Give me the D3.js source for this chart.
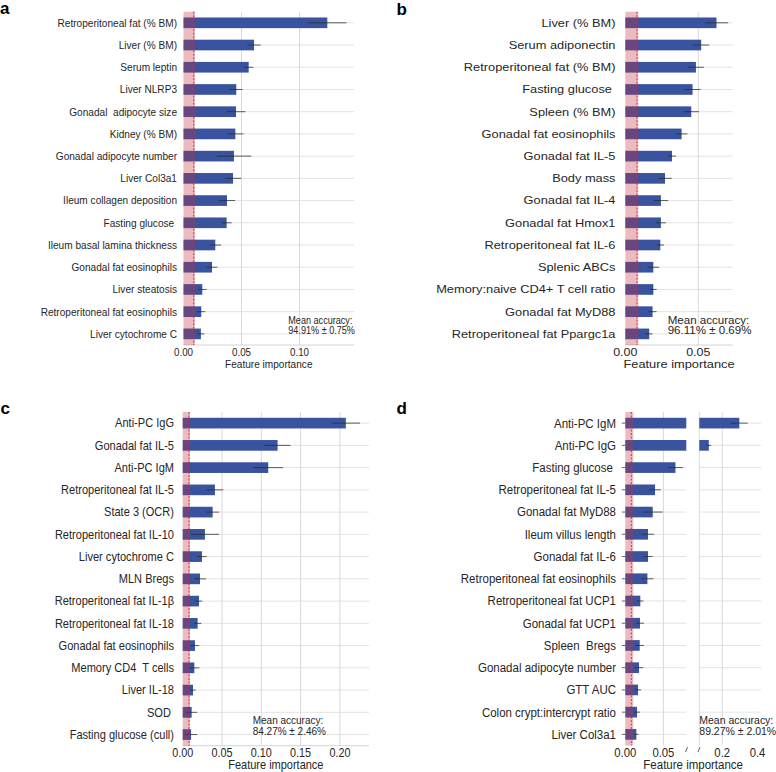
<!DOCTYPE html>
<html><head><meta charset="utf-8">
<script src="https://cdn.jsdelivr.net/npm/d3@7"></script>
<style>
body{margin:0;background:#fff}
svg{display:block;font-family:"Liberation Sans",Arial,Helvetica,sans-serif}
text{white-space:pre}
</style>
</head><body>
<svg id="chart" width="776" height="772"></svg>
<script>
// ---------- DATA ----------
const labelsA = ["Retroperitoneal fat (% BM)","Liver (% BM)","Serum leptin","Liver NLRP3","Gonadal  adipocyte size","Kidney (% BM)","Gonadal adipocyte number","Liver Col3a1","Ileum collagen deposition","Fasting glucose ","Ileum basal lamina thickness","Gonadal fat eosinophils","Liver steatosis","Retroperitoneal fat eosinophils","Liver cytochrome C"];
const valuesA = [0.124,0.0608,0.0562,0.0455,0.0453,0.0447,0.0435,0.0427,0.0375,0.0372,0.0274,0.0246,0.0162,0.0153,0.015];
const errorsA = [0.0165,0.0057,0.004,0.0055,0.008,0.007,0.015,0.007,0.007,0.0043,0.005,0.0046,0.0037,0.0035,0.003];
const ticksA = [0,0.05,0.10];
const tickLabelsA = ["0.00","0.05","0.10"];
const accuracyA = ["Mean accuracy:","94.91% \u00b1 0.75%"];
const noiseA = {band:0.0099, line:0.0088};

const labelsB = ["Liver (% BM)","Serum adiponectin","Retroperitoneal fat (% BM)","Fasting glucose ","Spleen (% BM)","Gonadal fat eosinophils","Gonadal fat IL-5","Body mass","Gonadal fat IL-4","Gonadal fat Hmox1","Retroperitoneal fat IL-6","Splenic ABCs","Memory:naive CD4+ T cell ratio","Gonadal fat MyD88","Retroperitoneal fat Ppargc1a"];
const valuesB = [0.0625,0.052,0.0484,0.0461,0.0452,0.0386,0.032,0.0272,0.0244,0.0244,0.024,0.0192,0.0192,0.0187,0.0164];
const errorsB = [0.008,0.0055,0.0055,0.0055,0.0053,0.004,0.0027,0.0046,0.005,0.0034,0.0025,0.004,0.0023,0.0027,0.0023];
const ticksB = [0,0.05];
const tickLabelsB = ["0.00","0.05"];
const accuracyB = ["Mean accuracy:","96.11% \u00b1 0.69%"];
const noiseB = {band:0.0089, line:0.008};

const labelsC = ["Anti-PC IgG","Gonadal fat IL-5","Anti-PC IgM","Retroperitoneal fat IL-5","State 3 (OCR)","Retroperitoneal fat IL-10","Liver cytochrome C","MLN Bregs","Retroperitoneal fat IL-1\u03b2","Retroperitoneal fat IL-18","Gonadal fat eosinophils","Memory CD4  T cells","Liver IL-18","SOD ","Fasting glucose (cull)"];
const valuesC = [0.2075,0.1207,0.1088,0.041,0.0381,0.0283,0.0245,0.022,0.0207,0.019,0.0156,0.0148,0.0131,0.0114,0.0106];
const errorsC = [0.018,0.0165,0.019,0.0105,0.0081,0.018,0.006,0.0076,0.0042,0.0047,0.0055,0.0064,0.0034,0.007,0.008];
const ticksC = [0,0.05,0.10,0.15,0.20];
const tickLabelsC = ["0.00","0.05","0.10","0.15","0.20"];
const accuracyC = ["Mean accuracy:","84.27% \u00b1 2.46%"];
const noiseC = {band:0.0093, line:0.008};

const labelsD = ["Anti-PC IgM","Anti-PC IgG","Fasting glucose ","Retroperitoneal fat IL-5","Gonadal fat MyD88","Ileum villus length","Gonadal fat IL-6","Retroperitoneal fat eosinophils","Retroperitoneal fat UCP1","Gonadal fat UCP1","Spleen  Bregs","Gonadal adipocyte number","GTT AUC","Colon crypt:intercrypt ratio","Liver Col3a1"];
const valuesD = [0.297,0.124,0.0658,0.039,0.036,0.0298,0.0298,0.029,0.0197,0.0193,0.0189,0.018,0.0167,0.0154,0.0145];
const errorsD = [0.048,0.013,0.0097,0.0075,0.013,0.008,0.006,0.008,0.004,0.0053,0.0057,0.0057,0.004,0.004,0.003];
const ticksDLeft = [0,0.05];
const tickLabelsDLeft = ["0.00","0.05"];
const ticksDRight = [0.2,0.4];
const tickLabelsDRight = ["0.2","0.4"];
const accuracyD = ["Mean accuracy:","89.27% \u00b1 2.01%"];
const noiseD = {band:0.0105, line:0.0079};

const axisTitle = "Feature importance";

// ---------- DRAWING ----------
const svg = d3.select("#chart");
const BAR = "#3a539e", TXT = "#262626", GRID = "#e3e3e3", VGRID = "#d9d9d9";
const VY = 1.1; // glyphs are taller than their width suggests

function txt(g, x, y, s, size, sx, anchor, extra){
  const t = g.append("text")
    .attr("transform", `translate(${x},${y}) scale(${sx / VY},1)`)
    .attr("font-size", size * VY).attr("fill", TXT)
    .attr("text-anchor", anchor || "start").text(s);
  if (extra) extra(t);
  return t;
}

function panel(o){
  const g = svg.append("g");
  const y = d3.scaleBand().domain(d3.range(o.labels.length))
    .range(o.yRange).paddingInner(0.52).paddingOuter(0.26);
  const cy = i => y(i) + y.bandwidth()/2;
  const segs = o.segments.map(s => Object.assign({}, s, {x: d3.scaleLinear().domain(s.domain).range(s.range)}));
  const top = o.yRange[0], bottom = o.yRange[1];

  segs.forEach((s, si) => {
    g.append("g").selectAll("line").data(d3.range(o.labels.length)).join("line")
      .attr("x1", s.range[0]).attr("x2", s.range[1])
      .attr("y1", cy).attr("y2", cy)
      .attr("stroke", GRID).attr("stroke-width", 1);
    g.append("g").selectAll("line").data(s.grid).join("line")
      .attr("x1", d => s.x(d)).attr("x2", d => s.x(d))
      .attr("y1", top).attr("y2", bottom)
      .attr("stroke", VGRID).attr("stroke-width", 1);
    const lim = s.domain[1];
    const data = o.values.map((v, i) => ({v, e: o.errors[i], i}))
      .filter(d => si === 0 ? true : d.v > segs[0].domain[1]);
    g.append("g").selectAll("rect").data(data).join("rect")
      .attr("x", s.x(Math.max(s.domain[0], 0)))
      .attr("y", d => y(d.i))
      .attr("width", d => s.x(Math.min(d.v, lim)) - s.x(Math.max(s.domain[0], 0)))
      .attr("height", y.bandwidth())
      .attr("fill", BAR);
    const errData = data.filter(d => d.v <= lim && (si === 0 || d.v > s.domain[0]));
    g.append("g").selectAll("line").data(errData).join("line")
      .attr("x1", d => s.x(d.v - d.e)).attr("x2", d => s.x(Math.min(d.v + d.e, lim)))
      .attr("y1", d => cy(d.i)).attr("y2", d => cy(d.i))
      .attr("stroke", "#2a2a2a").attr("stroke-opacity", 0.75).attr("stroke-width", 1);
    s.ticks.forEach((t, k) => {
      txt(g, s.x(t), bottom + o.tickDy, s.tickLabels[k], o.tickSize, o.sx, "middle");
    });
    if (o.baseline) {
      g.append("line").attr("x1", s.range[0]).attr("x2", s.range[1])
        .attr("y1", bottom).attr("y2", bottom).attr("stroke", "#d4d4d4");
    }
  });

  const x0 = segs[0].x;
  g.append("rect").attr("x", x0(0)).attr("y", top)
    .attr("width", x0(o.noise.band) - x0(0)).attr("height", bottom - top)
    .attr("fill", "#c2303f").attr("fill-opacity", 0.33);
  g.append("line").attr("x1", x0(o.noise.line)).attr("x2", x0(o.noise.line))
    .attr("y1", top).attr("y2", bottom)
    .attr("stroke", "#c8283a").attr("stroke-width", 0.9).attr("stroke-dasharray", "2,1.5");

  o.labels.forEach((l, i) => {
    txt(g, o.labelX, cy(i), l, o.labelSize, o.sx, "end", t => t.attr("dy", "0.35em"));
    if (o.yTicks) {
      g.append("line").attr("x1", x0(0) - 3.5).attr("x2", x0(0))
        .attr("y1", cy(i)).attr("y2", cy(i)).attr("stroke", "#666");
    }
  });

  const xl = segs[0].range[0], xr = segs[segs.length-1].range[1];
  txt(g, (xl + xr)/2, bottom + o.titleDy, axisTitle, o.titleSize, o.sx, "middle");

  txt(g, o.accX, o.accY, o.accuracy[0], o.accSize, o.sx, "start");
  txt(g, o.accX, o.accY + 10.6, o.accuracy[1], o.accSize, o.sx, "start");

  g.append("text").attr("x", o.letterX).attr("y", o.letterY)
    .attr("font-size", 17).attr("font-weight", "bold").attr("fill", "#000").text(o.letter);

  if (o.breaks) {
    o.breaks.forEach(bx => {
      g.append("line").attr("x1", bx - 1).attr("x2", bx + 1)
        .attr("y1", bottom + 6.5).attr("y2", bottom + 1.5)
        .attr("stroke", "#555").attr("stroke-width", 0.9);
    });
  }
}

panel({
  letter: "a", letterX: 0, letterY: 14,
  labels: labelsA, values: valuesA, errors: errorsA, noise: noiseA, accuracy: accuracyA,
  yRange: [11.7, 345], labelX: 177, labelSize: 10.1, sx: 1,
  segments: [{domain: [0, 0.147], range: [183.5, 354], ticks: ticksA, tickLabels: tickLabelsA, grid: ticksA.slice(1)}],
  tickDy: 11, tickSize: 9.8, titleDy: 22.7, titleSize: 10.1,
  accX: 288.3, accY: 323.5, accSize: 9.1, baseline: true
});

panel({
  letter: "b", letterX: 396.5, letterY: 15,
  labels: labelsB, values: valuesB, errors: errorsB, noise: noiseB, accuracy: accuracyB,
  yRange: [11.7, 345], labelX: 615.5, labelSize: 10.1, sx: 1.27,
  segments: [{domain: [0, 0.0736], range: [625.3, 732.7], ticks: ticksB, tickLabels: tickLabelsB, grid: ticksB.slice(1)}],
  tickDy: 11, tickSize: 9.8, titleDy: 22.7, titleSize: 10.1,
  accX: 667.7, accY: 323.5, accSize: 9.1, baseline: true
});

panel({
  letter: "c", letterX: 0.5, letterY: 413.5,
  labels: labelsC, values: valuesC, errors: errorsC, noise: noiseC, accuracy: accuracyC,
  yRange: [412, 745.7], labelX: 174, labelSize: 11.05, sx: 1,
  segments: [{domain: [0, 0.237], range: [182.7, 369], ticks: ticksC, tickLabels: tickLabelsC, grid: ticksC.slice(1)}],
  tickDy: 11.7, tickSize: 10.8, titleDy: 23.4, titleSize: 11,
  accX: 252.7, accY: 724.4, accSize: 10, baseline: true
});

panel({
  letter: "d", letterX: 396.5, letterY: 414.3,
  labels: labelsD, values: valuesD, errors: errorsD, noise: noiseD, accuracy: accuracyD,
  yRange: [412, 745.5], labelX: 616, labelSize: 11.5, sx: 1, yTicks: true,
  segments: [
    {domain: [0, 0.080], range: [625.3, 686.3], ticks: ticksDLeft, tickLabels: tickLabelsDLeft, grid: ticksDLeft.slice(1)},
    {domain: [0.07, 0.42], range: [699.3, 761], ticks: ticksDRight, tickLabels: tickLabelsDRight, grid: [0.07, 0.2]}
  ],
  tickDy: 11.9, tickSize: 11.3, titleDy: 23.7, titleSize: 11.5,
  accX: 699.3, accY: 724, accSize: 10.5, baseline: false, breaks: [686.5, 699]
});
</script>
</body></html>
